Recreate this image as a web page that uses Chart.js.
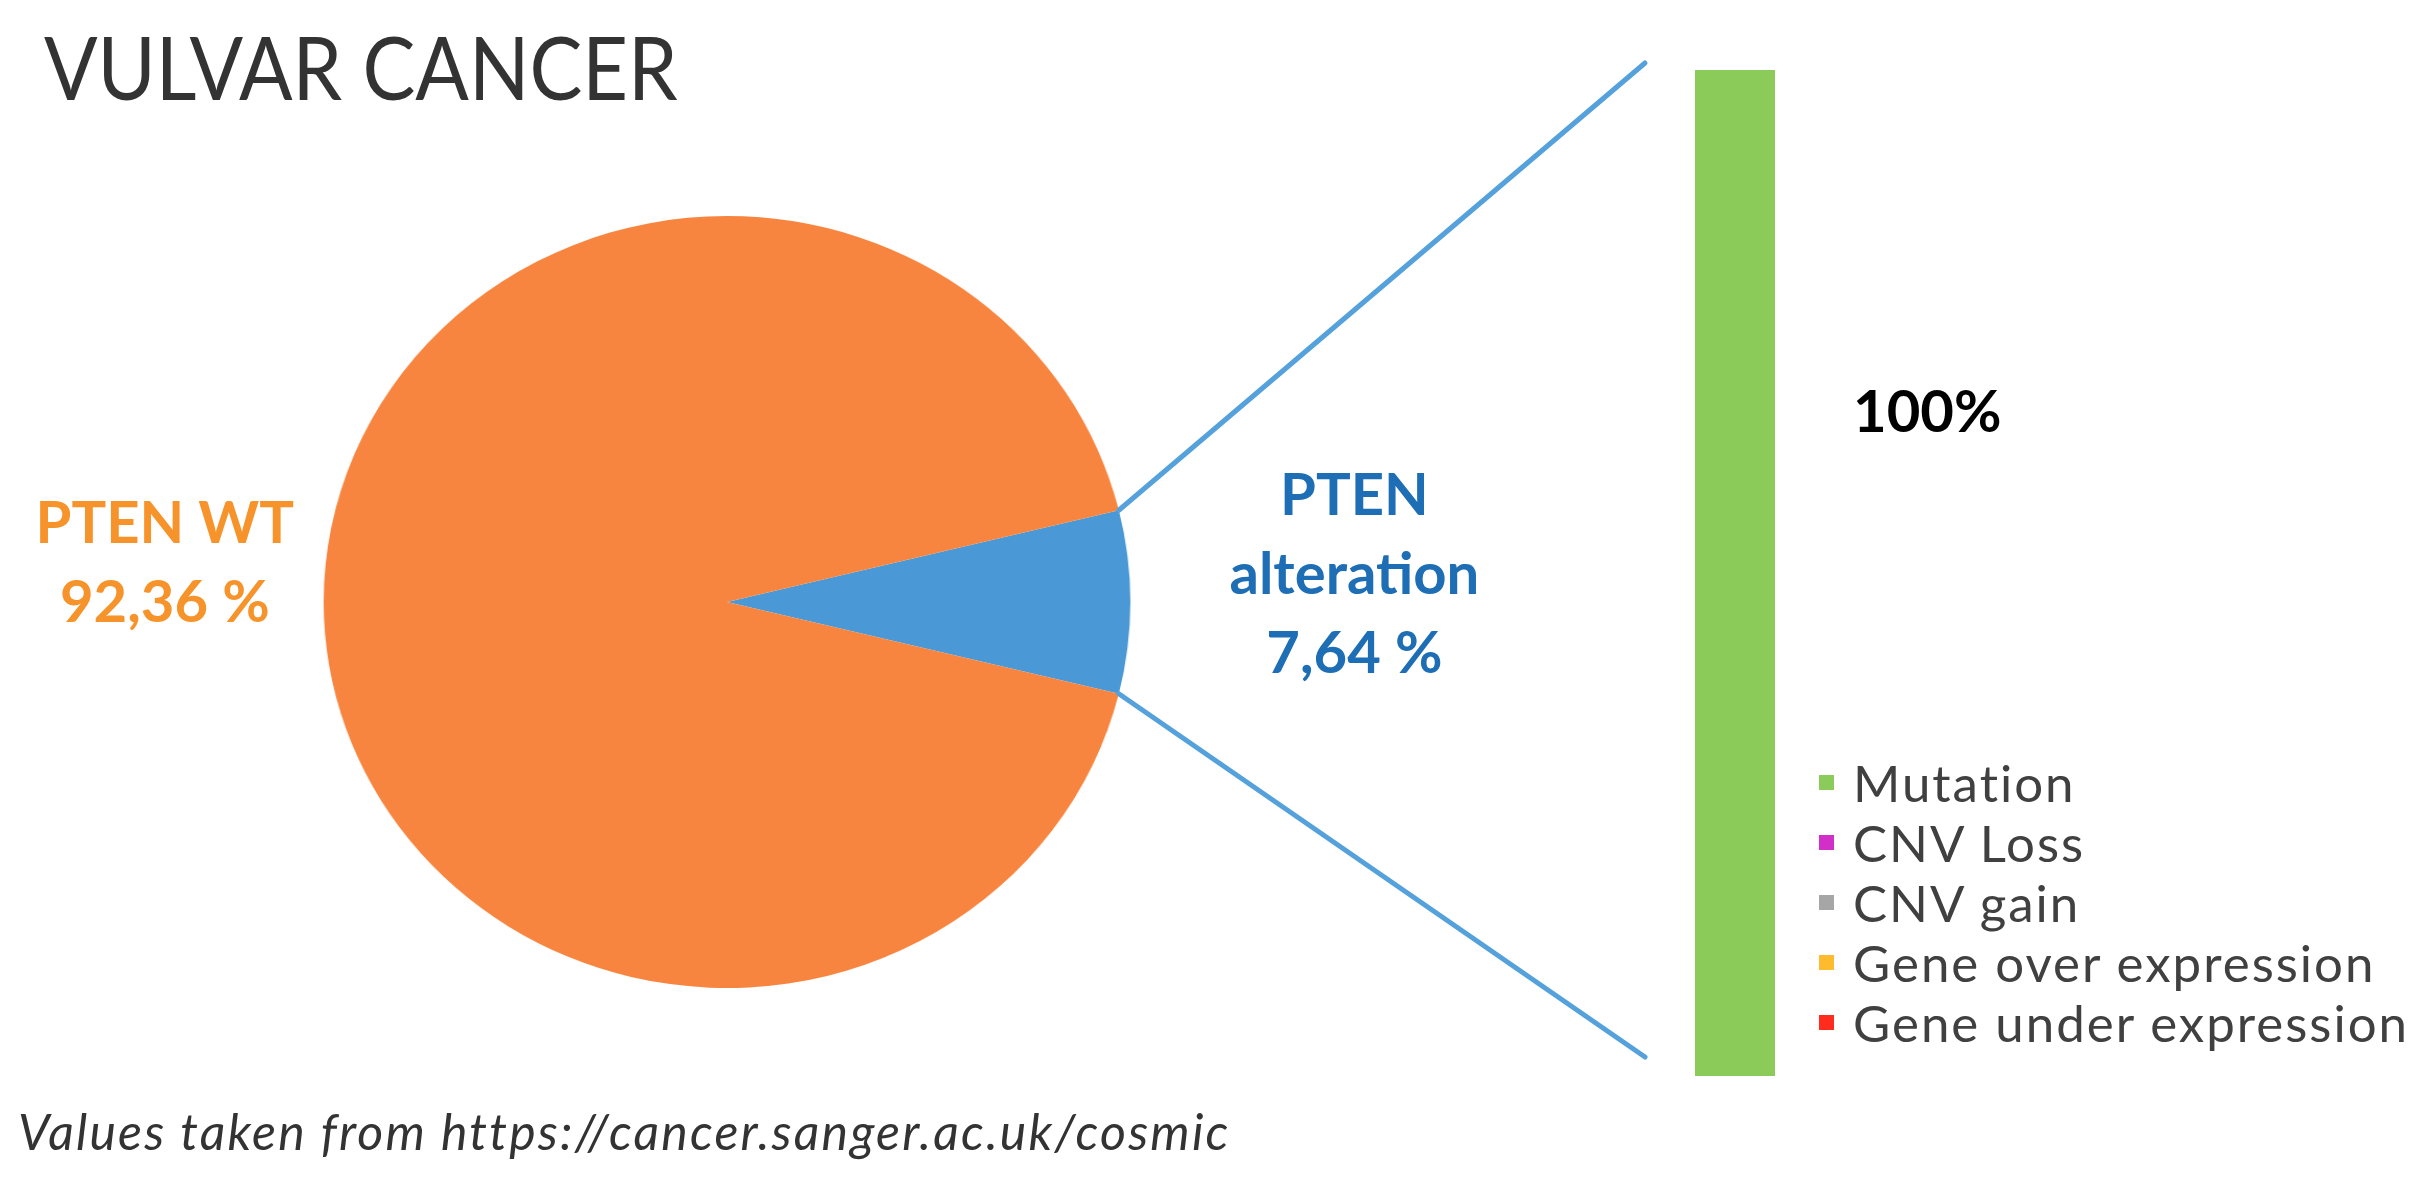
<!DOCTYPE html>
<html>
<head>
<meta charset="utf-8">
<script src="https://cdn.jsdelivr.net/npm/chart.js@4.4.1/dist/chart.umd.min.js"></script>
<style>
  body { margin: 0; background: #fff; width: 2427px; height: 1179px; overflow: hidden; position: relative; }
  #pie { position: absolute; left: 309px; top: 202px; }
  #bar { position: absolute; left: 0; top: 0; }
  #legend { position: absolute; left: 1819px; top: 752px; font-family: Lato, sans-serif; font-size: 51px; color: #404040; letter-spacing: 2px; }
  #legend .row { display: flex; align-items: center; height: 60px; white-space: nowrap; }
  #legend .box { width: 15px; height: 15px; margin-right: 19px; flex: none; }
</style>
</head>
<body>
<!-- the source figure is stretched a little horizontally, so the pie is drawn as an ellipse -->
<canvas id="pie" width="800" height="800" style="width:836px;height:800px"></canvas>
<canvas id="bar" width="2427" height="1179"></canvas>
<div id="legend"></div>
<script>
const sliceLabels = ['PTEN alteration', 'PTEN WT'];
const sliceValues = [7.64, 92.36];
const sliceColors = ['#4a98d5', '#f8853f'];
const sliceText = [['PTEN', 'alteration', '7,64 %'], ['PTEN WT', '92,36 %']];
const sliceTextColors = ['#1e6eb5', '#f7932b'];

const altTypes = ['Mutation', 'CNV Loss', 'CNV gain', 'Gene over expression', 'Gene under expression'];
const altValues = [100, 0, 0, 0, 0];
const altColors = ['#8bcb5a', '#d12fc7', '#a6a6a6', '#fdbb2d', '#ff2b1c'];
const barLabel = '100%';

const titleText = 'VULVAR CANCER';
const sourceText = 'Values taken from https://cancer.sanger.ac.uk/cosmic';

const PIE_LEFT = 309, PIE_TOP = 202, PIE_SX = 836 / 800;

function build() {
  const pieChart = new Chart(document.getElementById('pie'), {
    type: 'pie',
    data: { labels: sliceLabels, datasets: [{ data: sliceValues, backgroundColor: sliceColors, borderWidth: 0 }] },
    options: {
      responsive: false, animation: false, devicePixelRatio: 1,
      rotation: 90 - sliceValues[0] / 100 * 180,
      layout: { padding: 14 },
      plugins: { legend: { display: false }, tooltip: { enabled: false } }
    }
  });

  // page position of a point on the pie rim
  const arc = pieChart.getDatasetMeta(0).data[0];
  const R = arc.outerRadius;
  const rim = a => [PIE_LEFT + (arc.x + R * Math.cos(a)) * PIE_SX, PIE_TOP + arc.y + R * Math.sin(a)];
  const pcx = PIE_LEFT + arc.x * PIE_SX, pcy = PIE_TOP + arc.y, prx = R * PIE_SX;

  const annotate = {
    id: 'annotate',
    afterDraw(chart) {
      const c = chart.ctx;
      const bar = chart.getDatasetMeta(0).data[0];
      c.save();

      // title (narrowed a bit, the original face is condensed) + source
      c.fillStyle = '#333';
      c.save();
      c.translate(44, 100);
      c.scale(0.9, 1);
      c.font = '88px Lato';
      c.fillText(titleText, 0, 0);
      c.restore();
      c.font = 'italic 50px Lato';
      c.letterSpacing = '2.2px';
      c.fillText(sourceText, 18, 1150);
      c.letterSpacing = '0px';

      // value label beside the bar
      c.font = 'bold 58px Lato';
      c.fillStyle = '#000';
      c.fillText(barLabel, bar.x + bar.width / 2 + 78, bar.y + (bar.base - bar.y) * 0.36);

      // connector lines from the slice to the bar
      const bx = bar.x - bar.width / 2 - 50;
      const p1 = rim(arc.startAngle), p2 = rim(arc.endAngle);
      c.strokeStyle = '#55a1dc';
      c.lineWidth = 5;
      c.lineCap = 'round';
      c.beginPath();
      c.moveTo(p1[0], p1[1]);
      c.lineTo(bx, bar.y - 7);
      c.moveTo(p2[0], p2[1]);
      c.lineTo(bx, bar.base - 19);
      c.stroke();

      // slice labels
      c.font = 'bold 58px Lato';
      c.textAlign = 'center';
      c.fillStyle = sliceTextColors[0];
      sliceText[0].forEach((t, i) => c.fillText(t, pcx + prx + 224, pcy - 87 + i * 79));
      c.fillStyle = sliceTextColors[1];
      sliceText[1].forEach((t, i) => c.fillText(t, (pcx - prx) / 2 + 3, pcy - 59 + i * 79));
      c.restore();
    }
  };

  const barChart = new Chart(document.getElementById('bar'), {
    type: 'bar',
    data: {
      labels: ['PTEN alteration'],
      datasets: altTypes.map((t, i) => ({ label: t, data: [altValues[i]], backgroundColor: altColors[i], borderWidth: 0 }))
    },
    options: {
      responsive: false, animation: false, devicePixelRatio: 1,
      layout: { padding: { left: 1695, right: 652, top: 70, bottom: 103 } },
      datasets: { bar: { barPercentage: 1, categoryPercentage: 1 } },
      scales: {
        x: { display: false, stacked: true },
        y: { display: false, stacked: true, min: 0, max: 100 }
      },
      plugins: { legend: { display: false }, tooltip: { enabled: false } }
    },
    plugins: [annotate]
  });

  // html legend from the bar chart's own legend items
  const legend = document.getElementById('legend');
  Chart.defaults.plugins.legend.labels.generateLabels(barChart).forEach(item => {
    const row = document.createElement('div');
    row.className = 'row';
    const box = document.createElement('span');
    box.className = 'box';
    box.style.background = item.fillStyle;
    const txt = document.createElement('span');
    txt.textContent = item.text;
    row.appendChild(box);
    row.appendChild(txt);
    legend.appendChild(row);
  });
}

Promise.all([
  document.fonts.load('88px Lato'),
  document.fonts.load('bold 58px Lato'),
  document.fonts.load('italic 50px Lato')
]).then(build, build);
</script>
</body>
</html>
